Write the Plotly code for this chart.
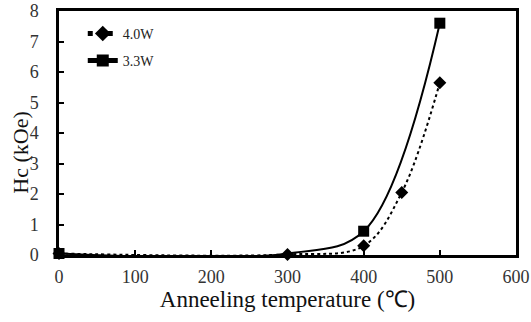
import plotly.graph_objects as go

temp_40 = [0, 300, 400, 450, 500]
hc_40 = [0.05, 0.02, 0.3, 2.05, 5.65]
temp_33 = [0, 300, 400, 500]
hc_33 = [0.05, 0.05, 0.78, 7.6]
marker_vis_33 = [1, 0, 1, 1]

x_ticks = [0, 100, 200, 300, 400, 500, 600]
y_ticks = [0, 1, 2, 3, 4, 5, 6, 7, 8]

font = "Liberation Serif, Times New Roman, serif"

fig = go.Figure()
fig.add_trace(go.Scatter(
    x=temp_40, y=hc_40, name="4.0W", mode="lines+markers", legend="legend",
    line=dict(color="black", width=2, dash="dot", shape="spline", smoothing=1),
    marker=dict(symbol="diamond", size=10, color="black", line=dict(width=0)),
    cliponaxis=False,
))
fig.add_trace(go.Scatter(
    x=temp_33, y=hc_33, name="3.3W", mode="lines+markers", showlegend=False,
    line=dict(color="black", width=2, shape="spline", smoothing=1),
    marker=dict(symbol="square", size=11, opacity=marker_vis_33, color="black",
                line=dict(width=0)),
    cliponaxis=False,
))
# legend entry for the 3.3W series
fig.add_trace(go.Scatter(
    x=[None], y=[None], name="3.3W", mode="lines+markers", legend="legend2",
    line=dict(color="black", width=2),
    marker=dict(symbol="square", size=11, color="black", line=dict(width=0)),
))

leg_common = dict(xanchor="left", yanchor="middle", bgcolor="rgba(0,0,0,0)",
                  font=dict(size=14, family=font, color="#222"), itemwidth=30,
                  itemsizing="constant")

fig.update_layout(
    width=531, height=322,
    margin=dict(l=59, r=15, t=11, b=67),
    paper_bgcolor="white", plot_bgcolor="white",
    font=dict(family=font, size=18, color="black"),
    showlegend=True,
    legend=dict(x=0.052, y=0.906, **leg_common),
    legend2=dict(x=0.052, y=0.795, **leg_common),
    xaxis=dict(range=[0, 600], tickvals=x_ticks, ticktext=[str(v) for v in x_ticks],
               ticks="inside", ticklen=5, tickwidth=2, tickcolor="black",
               showline=True, linewidth=2.5, linecolor="black", mirror=True,
               showgrid=False, zeroline=False, automargin=False,
               tickfont=dict(size=18, color="#333"), ticklabelstandoff=4,
               title=dict(text="Anneeling temperature (\u2103)", font=dict(size=23, color="#111"), standoff=0)),
    yaxis=dict(range=[0, 8], tickvals=y_ticks, ticktext=[str(v) for v in y_ticks],
               ticks="inside", ticklen=5, tickwidth=2, tickcolor="black",
               showline=True, linewidth=2.5, linecolor="black", mirror=True,
               showgrid=False, zeroline=False, automargin=False,
               tickfont=dict(size=18, color="#333"), ticklabelstandoff=14),
    annotations=[dict(text="Hc (kOe)", xref="paper", yref="paper", x=-0.085, y=0.42,
                      xanchor="center", yanchor="middle", textangle=-90, showarrow=False,
                      font=dict(size=22, family=font, color="#111"))],
)

fig.write_html("out.html")
